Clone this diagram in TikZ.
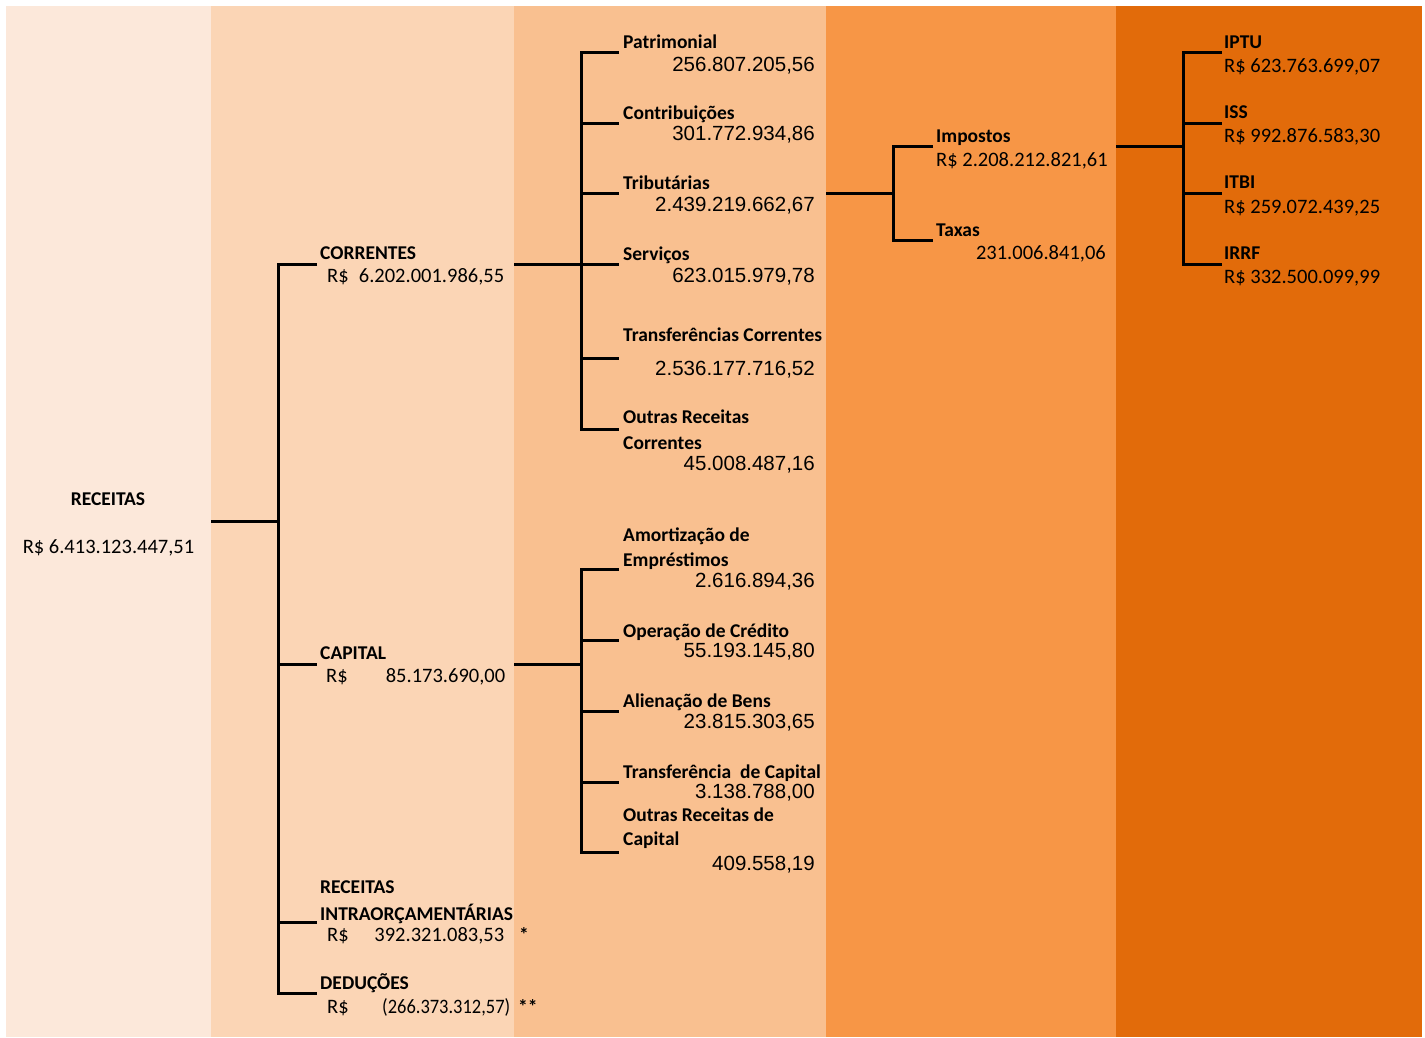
\documentclass[tikz,border=0pt]{standalone}
\usepackage{fontspec}
\usepackage{graphicx}
\setmainfont{Carlito}
\newfontfamily\arialfont{Liberation Sans}

\definecolor{band1}{HTML}{FCE8DA}
\definecolor{band2}{HTML}{FBD5B5}
\definecolor{band3}{HTML}{F9C090}
\definecolor{band4}{HTML}{F79646}
\definecolor{band5}{HTML}{E26B0A}

\begin{document}
\begin{tikzpicture}[
    x=1pt, y=-1pt,
    conn/.style={line width=3pt},
    lab/.style={font=\bfseries\fontsize{19.5}{24}\selectfont, anchor=base west, inner sep=0pt},
    val/.style={font=\fontsize{20.5}{24}\selectfont, anchor=base west, inner sep=0pt},
    num/.style={font=\arialfont\fontsize{20.5}{24}\selectfont, anchor=base east, inner sep=0pt},
  ]
  \useasboundingbox (0,0) rectangle (1425,1037);
  \foreach \i/\xa/\xb in {1/6/211, 2/211/514, 3/514/826, 4/826/1116, 5/1116/1422}
    \fill[band\i] (\xa,6) rectangle (\xb,1037);

  \node[lab, anchor=base] (rec) at (108,505) {RECEITAS};
  \node[val, anchor=base] (rec-val) at (108.5,553) {R\$ 6.413.123.447,51};

  \node[lab] (corr) at (320,259) {CORRENTES};
  \node[val] (corr-val) at (327,282) {\makebox[177pt]{R\$\hfill 6.202.001.986,55}};
  \node[lab] (cap) at (320,659) {CAPITAL};
  \node[val] (cap-val) at (326,682) {\makebox[179pt]{R\$\hfill 85.173.690,00}};
  \node[lab] (intra) at (320,893) {RECEITAS};
  \node[lab] (intra-b) at (320,920) {INTRAORÇAMENTÁRIAS};
  \node[val] (intra-val) at (327,941) {\makebox[177pt]{R\$\hfill 392.321.083,53}};
  \node[lab] (intra-note) at (519,941) {*};
  \node[lab] (ded) at (320,989) {DEDUÇÕES};
  \node[val] (ded-val) at (327,1013) {\makebox[183pt]{R\$\hfill\scalebox{0.9}[1]{(266.373.312,57)}}};
  \node[lab] (ded-note) at (518,1013) {**};

  \node[lab] (patr) at (623,48) {Patrimonial};
  \node[num] (patr-val) at (815,71) {256.807.205,56};
  \node[lab] (contr) at (623,119) {Contribuições};
  \node[num] (contr-val) at (815,140) {301.772.934,86};
  \node[lab] (trib) at (623,189) {Tributárias};
  \node[num] (trib-val) at (815,211) {2.439.219.662,67};
  \node[lab] (serv) at (623,260) {Serviços};
  \node[num] (serv-val) at (815,282) {623.015.979,78};
  \node[lab] (tcor) at (623,341) {Transferências Correntes};
  \node[num] (tcor-val) at (815,375) {2.536.177.716,52};
  \node[lab] (ocor) at (623,423) {Outras Receitas};
  \node[lab] (ocor-b) at (623,449) {Correntes};
  \node[num] (ocor-val) at (815,470) {45.008.487,16};

  \node[lab] (amort) at (623,541) {Amortização de};
  \node[lab] (amort-b) at (623,566) {Empréstimos};
  \node[num] (amort-val) at (815,587) {2.616.894,36};
  \node[lab] (oper) at (623,637) {Operação de Crédito};
  \node[num] (oper-val) at (815,657) {55.193.145,80};
  \node[lab] (alien) at (623,707) {Alienação de Bens};
  \node[num] (alien-val) at (815,728) {23.815.303,65};
  \node[lab] (tcap) at (623,778) {Transferência\ \ de Capital};
  \node[num] (tcap-val) at (815,798) {3.138.788,00};
  \node[lab] (ocap) at (623,821) {Outras Receitas de};
  \node[lab] (ocap-b) at (623,845) {Capital};
  \node[num] (ocap-val) at (815,870) {409.558,19};

  \node[lab] (impo) at (936,142) {Impostos};
  \node[val] (impo-val) at (936,166) {R\$ 2.208.212.821,61};
  \node[lab] (taxa) at (936,236) {Taxas};
  \node[val, anchor=base east] (taxa-val) at (1106,259) {231.006.841,06};

  \node[lab] (iptu) at (1224,48) {IPTU};
  \node[val] (iptu-val) at (1224,72) {R\$ 623.763.699,07};
  \node[lab] (iss) at (1224,118) {ISS};
  \node[val] (iss-val) at (1224,142) {R\$ 992.876.583,30};
  \node[lab] (itbi) at (1224,188) {ITBI};
  \node[val] (itbi-val) at (1224,213) {R\$ 259.072.439,25};
  \node[lab] (irrf) at (1224,259) {IRRF};
  \node[val] (irrf-val) at (1224,283) {R\$ 332.500.099,99};

  \coordinate (t1) at (278,0);
  \coordinate (t2) at (581,0);
  \coordinate (t3) at (893,0);
  \coordinate (t4) at (1183,0);
  \coordinate (rec-out) at (211,521);
  \coordinate (corr-out) at (514,264);
  \coordinate (cap-out) at (514,664);
  \coordinate (trib-out) at (826,193);
  \coordinate (impo-out) at (1116,146);
  \foreach \n/\y in {corr/264, cap/664, intra/922, ded/993}
    \coordinate (\n-in) at (317,\y);
  \foreach \n/\y in {patr/52, contr/123, trib/193, serv/264, tcor/358, ocor/429,
                     amort/569, oper/640, alien/711, tcap/782, ocap/852}
    \coordinate (\n-in) at (619,\y);
  \foreach \n/\y in {impo/146, taxa/240}
    \coordinate (\n-in) at (933,\y);
  \foreach \n/\y in {iptu/52, iss/123, itbi/193, irrf/264}
    \coordinate (\n-in) at (1222,\y);

  \draw[conn] (rec-out) -- (t1 |- rec-out);
  \draw[conn] (corr-in) -| (t1 |- ded-in) -- (ded-in);
  \foreach \n in {cap,intra}
    \draw[conn] (t1 |- \n-in) -- (\n-in);

  \draw[conn] (corr-out) -- (t2 |- corr-out);
  \draw[conn] (patr-in) -| (t2 |- ocor-in) -- (ocor-in);
  \foreach \n in {contr,trib,serv,tcor}
    \draw[conn] (t2 |- \n-in) -- (\n-in);

  \draw[conn] (cap-out) -- (t2 |- cap-out);
  \draw[conn] (amort-in) -| (t2 |- ocap-in) -- (ocap-in);
  \foreach \n in {oper,alien,tcap}
    \draw[conn] (t2 |- \n-in) -- (\n-in);

  \draw[conn] (trib-out) -- (t3 |- trib-out);
  \draw[conn] (impo-in) -| (t3 |- taxa-in) -- (taxa-in);

  \draw[conn] (impo-out) -- (t4 |- impo-out);
  \draw[conn] (iptu-in) -| (t4 |- irrf-in) -- (irrf-in);
  \foreach \n in {iss,itbi}
    \draw[conn] (t4 |- \n-in) -- (\n-in);
\end{tikzpicture}
\end{document}
